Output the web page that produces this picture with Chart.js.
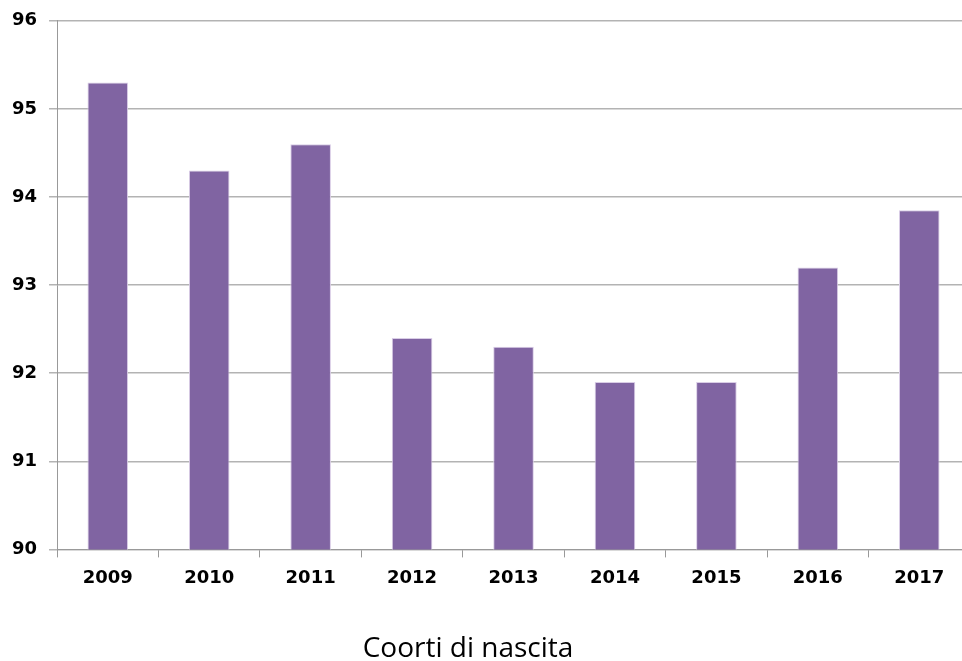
<!DOCTYPE html>
<html>
<head>
<meta charset="utf-8">
<script src="https://cdn.jsdelivr.net/npm/chart.js@4.4.1/dist/chart.umd.min.js"></script>
<style>
  html, body { margin: 0; padding: 0; background: #fff; overflow: hidden; }
  #wrap { width: 972px; height: 663px; margin-top: -2px; }
</style>
</head>
<body>
<div id="wrap"><canvas id="canvas"></canvas></div>
<script>
var anni = ['2009', '2010', '2011', '2012', '2013', '2014', '2015', '2016', '2017'];
var copertura = [95.3, 94.3, 94.6, 92.4, 92.3, 91.9, 91.9, 93.2, 93.85];
var yMin = 90;
var yMax = 96;
var titoloAsse = 'Coorti di nascita';

var tickFont = { family: 'DejaVu Sans', size: 18, weight: 'bold' };

// axis caption under the x labels, drawn a little left of the plot centre
var captionPlugin = {
    id: 'caption',
    afterDraw: function(chart) {
        var c = chart.ctx;
        c.save();
        c.font = '28px "Open Sans"';
        c.fillStyle = '#000';
        c.textAlign = 'center';
        c.textBaseline = 'middle';
        c.fillText(titoloAsse, 468, 651);
        c.restore();
    }
};

var config = {
    type: 'bar',
    data: {
        labels: anni,
        datasets: [{
            data: copertura,
            backgroundColor: '#8064A2',
            borderColor: '#D9CDE6',
            borderWidth: 1,
            barPercentage: 0.8,
            categoryPercentage: 0.5
        }]
    },
    options: {
        responsive: true,
        maintainAspectRatio: false,
        animation: false,
        layout: { padding: { top: 2, left: 0, right: 2, bottom: 62 } },
        plugins: {
            legend: { display: false },
            tooltip: { enabled: false }
        },
        scales: {
            x: {
                offset: true,
                grid: {
                    offset: true,
                    drawOnChartArea: false,
                    tickLength: 8,
                    color: '#999999'
                },
                border: { color: '#999999', width: 1 },
                ticks: { color: '#000', font: tickFont, padding: 10 }
            },
            y: {
                min: yMin,
                max: yMax,
                grid: { color: '#B3B3B3', lineWidth: 1.5, tickLength: 8 },
                border: { color: '#999999', width: 1 },
                ticks: { stepSize: 1, color: '#000', font: tickFont, padding: 12 }
            }
        }
    },
    plugins: [captionPlugin]
};

var ctx = document.getElementById('canvas');
window.myChart = new Chart(ctx, config);
</script>
</body>
</html>
